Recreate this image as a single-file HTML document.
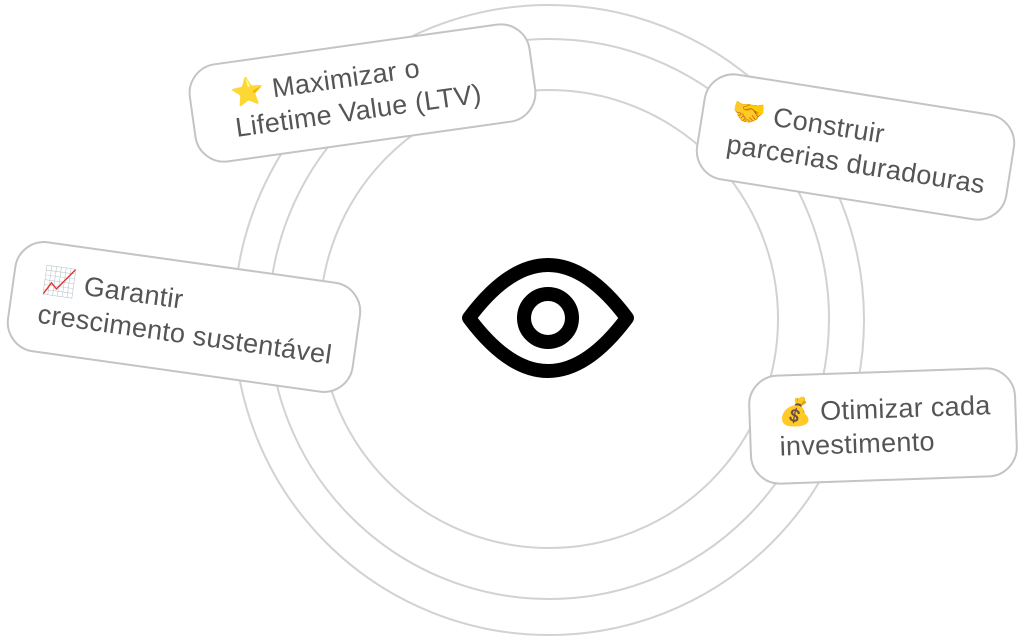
<!DOCTYPE html>
<html><head><meta charset="utf-8"><style>
body{margin:0;width:1024px;height:638px;background:#fff;position:relative;overflow:hidden;font-family:"Liberation Sans","Noto Sans CJK JP",sans-serif}
.b{position:absolute;background:#fff;border:2px solid #c4c4c4;border-radius:30px;box-sizing:border-box;color:#555;font-size:27px;line-height:34px;padding:0 0 0 40px;display:flex;flex-direction:column;justify-content:center;white-space:nowrap;letter-spacing:0.3px}
</style></head><body>
<svg width="1024" height="638" style="position:absolute;left:0;top:0">
<g fill="none" stroke="#d2d2d2" stroke-width="2">
<circle cx="549" cy="320" r="315"/>
<circle cx="549" cy="319" r="280"/>
<circle cx="549" cy="319" r="229"/>
</g>
<g fill="none" stroke="#000" stroke-width="14" stroke-linejoin="round">
<path d="M469 318 Q548 212 627 318 Q548 424 469 318 Z"/>
<circle cx="548" cy="318" r="24"/>
</g>
</svg>
<div class="b" style="left:190px;top:43px;width:345px;height:100px;transform:rotate(-8deg)"><div>⭐ Maximizar o</div><div>Lifetime Value (LTV)</div></div>
<div class="b" style="left:698px;top:93px;width:315px;height:108px;padding-left:28px;transform:rotate(9deg)"><div>🤝 Construir</div><div>parcerias duradouras</div></div>
<div class="b" style="left:9px;top:261px;width:350px;height:112px;padding-left:28px;transform:rotate(8deg)"><div>📈 Garantir</div><div>crescimento sustentável</div></div>
<div class="b" style="left:749px;top:371px;width:268px;height:110px;padding-left:28px;transform:rotate(-2deg)"><div>💰 Otimizar cada</div><div>investimento</div></div>
</body></html>
